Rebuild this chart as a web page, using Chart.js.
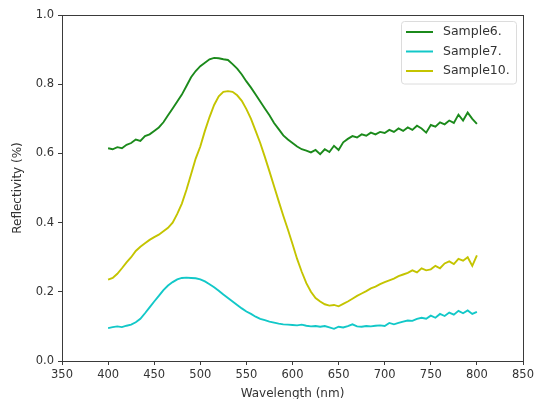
<!DOCTYPE html>
<html>
<head>
<meta charset="utf-8">
<script src="https://cdn.jsdelivr.net/npm/chart.js@4"></script>
<style>
  html, body { margin: 0; padding: 0; background: #fff; }
  #wrap { width: 538px; height: 399px; }
</style>
</head>
<body>
<div id="wrap"><canvas id="reflectivity-chart"></canvas></div>
<script>
const wavelengths = [
  400, 405, 410, 415, 420, 425, 430, 435, 440, 445, 450, 455, 460, 465, 470, 475, 480,
  485, 490, 495, 500, 505, 510, 515, 520, 525, 530, 535, 540, 545, 550, 555, 560,
  565, 570, 575, 580, 585, 590, 595, 600, 605, 610, 615, 620, 625, 630, 635, 640,
  645, 650, 655, 660, 665, 670, 675, 680, 685, 690, 695, 700, 705, 710, 715, 720,
  725, 730, 735, 740, 745, 750, 755, 760, 765, 770, 775, 780, 785, 790, 795, 800,
];

const sample6 = [
  0.615, 0.612, 0.618, 0.615, 0.625, 0.630, 0.640, 0.636, 0.650, 0.655, 0.665, 0.675, 0.690, 0.710, 0.730, 0.750, 0.770,
  0.795, 0.820, 0.838, 0.852, 0.862, 0.872, 0.876, 0.875, 0.872, 0.870, 0.858, 0.845, 0.828, 0.808, 0.790, 0.770,
  0.750, 0.730, 0.710, 0.688, 0.670, 0.652, 0.640, 0.630, 0.620, 0.612, 0.608, 0.603, 0.610, 0.598, 0.612, 0.604,
  0.622, 0.610, 0.632, 0.642, 0.650, 0.646, 0.655, 0.651, 0.660, 0.655, 0.662, 0.659, 0.668, 0.662, 0.672, 0.665,
  0.675, 0.668, 0.680, 0.672, 0.660, 0.682, 0.677, 0.690, 0.684, 0.695, 0.688, 0.712, 0.695, 0.718, 0.700, 0.685,
];

const sample7 = [
  0.095, 0.098, 0.100, 0.098, 0.102, 0.105, 0.112, 0.122, 0.138, 0.155, 0.172, 0.188, 0.205, 0.218, 0.228, 0.236, 0.240,
  0.241, 0.240, 0.239, 0.236, 0.230, 0.222, 0.213, 0.203, 0.192, 0.182, 0.172, 0.162, 0.152, 0.143, 0.136, 0.128,
  0.122, 0.118, 0.114, 0.111, 0.108, 0.106, 0.105, 0.104, 0.103, 0.105, 0.102, 0.100, 0.101, 0.099, 0.101, 0.097,
  0.093, 0.099, 0.097, 0.101, 0.106, 0.100, 0.099, 0.101, 0.100, 0.102, 0.103, 0.101, 0.110, 0.106, 0.110, 0.114,
  0.117, 0.116, 0.122, 0.125, 0.122, 0.131, 0.125, 0.136, 0.130, 0.140, 0.134, 0.145, 0.138, 0.146, 0.136, 0.142,
];

const sample10 = [
  0.235, 0.240, 0.252, 0.268, 0.285, 0.300, 0.318, 0.330, 0.340, 0.350, 0.358, 0.365, 0.375, 0.385, 0.400, 0.425, 0.455,
  0.495, 0.540, 0.585, 0.620, 0.665, 0.705, 0.740, 0.765, 0.778, 0.780, 0.778, 0.768, 0.752, 0.728, 0.700, 0.665,
  0.630, 0.590, 0.548, 0.505, 0.462, 0.420, 0.380, 0.338, 0.295, 0.258, 0.225, 0.200, 0.182, 0.172, 0.164, 0.160,
  0.162, 0.158, 0.165, 0.172, 0.180, 0.188, 0.195, 0.202, 0.210, 0.215, 0.222, 0.228, 0.233, 0.238, 0.245, 0.250,
  0.255, 0.262, 0.256, 0.268, 0.262, 0.265, 0.275, 0.268, 0.282, 0.288, 0.280, 0.295, 0.290, 0.300, 0.275, 0.305,
];

const seriesLabels = ["Sample6.", "Sample7.", "Sample10."];
const xTicks = { min: 350, max: 850, step: 50 };
const yTicks = { min: 0, max: 1, step: 0.2 };

const colors = ["#1b8a1b", "#12c8c8", "#c4c400"];
const axisColor = "#3a3a3a";
const fontFamily = "'DejaVu Sans', sans-serif";

const toPoints = (values) => values.map((v, i) => ({ x: wavelengths[i], y: v }));

// top and right spines, like a matplotlib axes box
const frameBox = {
  id: "frameBox",
  afterDraw(chart) {
    const { ctx, chartArea: a } = chart;
    ctx.save();
    ctx.strokeStyle = axisColor;
    ctx.lineWidth = 1;
    ctx.strokeRect(a.left + 0.5, a.top + 0.5, a.right - a.left, a.bottom - a.top);
    ctx.restore();
  },
};

// legend box in the upper right corner of the plot
const cornerLegend = {
  id: "cornerLegend",
  afterDraw(chart) {
    const { ctx, chartArea: a } = chart;
    const datasets = chart.data.datasets;
    const boxW = 115;
    const rowH = 19.5;
    const boxH = 12 + rowH * datasets.length - 8;
    const x0 = a.right - 7 - boxW;
    const y0 = a.top + 6;
    ctx.save();
    ctx.fillStyle = "rgba(255,255,255,0.85)";
    ctx.strokeStyle = "#dcdcdc";
    ctx.lineWidth = 1;
    ctx.beginPath();
    ctx.roundRect(x0 + 0.5, y0 + 0.5, boxW, boxH, 3);
    ctx.fill();
    ctx.stroke();
    ctx.font = `12.5px ${fontFamily}`;
    ctx.textBaseline = "middle";
    datasets.forEach((ds, i) => {
      const y = y0 + 11 + i * rowH;
      ctx.strokeStyle = ds.borderColor;
      ctx.lineWidth = 2;
      ctx.beginPath();
      ctx.moveTo(x0 + 5, y);
      ctx.lineTo(x0 + 32, y);
      ctx.stroke();
      ctx.fillStyle = "#333";
      ctx.fillText(ds.label, x0 + 42, y);
    });
    ctx.restore();
  },
};

new Chart(document.getElementById("reflectivity-chart"), {
  type: "line",
  data: {
    datasets: [sample6, sample7, sample10].map((values, i) => ({
      label: seriesLabels[i],
      data: toPoints(values),
      borderColor: colors[i],
      backgroundColor: colors[i],
      borderWidth: 1.9,
      pointRadius: 0,
      tension: 0,
      fill: false,
    })),
  },
  options: {
    responsive: true,
    maintainAspectRatio: false,
    animation: false,
    layout: {
      padding: { top: 15, right: 15, left: 0, bottom: 0 },
    },
    plugins: {
      legend: { display: false },
      tooltip: { enabled: false },
    },
    scales: {
      x: {
        type: "linear",
        min: xTicks.min,
        max: xTicks.max,
        afterFit: (scale) => {
          scale.height = 38;
        },
        border: { display: true, color: axisColor, width: 1 },
        grid: {
          drawOnChartArea: false,
          drawTicks: true,
          tickLength: 4,
          tickColor: axisColor,
        },
        ticks: {
          stepSize: xTicks.step,
          padding: 3,
          color: "#333",
          font: { family: fontFamily, size: 11.5 },
          maxRotation: 0,
        },
        title: {
          display: true,
          text: "Wavelength (nm)",
          color: "#333",
          font: { family: fontFamily, size: 12 },
          padding: { top: 0, bottom: -2 },
        },
      },
      y: {
        min: yTicks.min,
        max: yTicks.max,
        afterFit: (scale) => {
          scale.width = 62;
        },
        border: { display: true, color: axisColor, width: 1 },
        grid: {
          drawOnChartArea: false,
          drawTicks: true,
          tickLength: 4,
          tickColor: axisColor,
        },
        ticks: {
          stepSize: yTicks.step,
          padding: 4,
          color: "#333",
          font: { family: fontFamily, size: 11.5 },
          callback: (v) => v.toFixed(1),
        },
        title: {
          display: true,
          text: "Reflectivity (%)",
          color: "#333",
          font: { family: fontFamily, size: 12 },
          padding: { top: 11, bottom: 0 },
        },
      },
    },
  },
  plugins: [frameBox, cornerLegend],
});
</script>
</body>
</html>
